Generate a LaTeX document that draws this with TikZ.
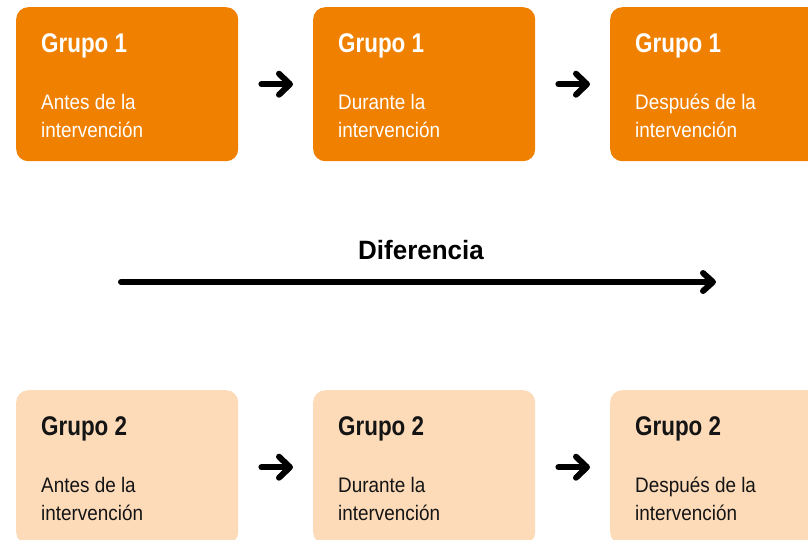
\documentclass[tikz,border=0pt]{standalone}
\usepackage{fontspec}
\setmainfont{Liberation Sans}
\newfontfamily\bodyfont[FakeStretch=0.9]{Liberation Sans}
\newfontfamily\titlefont[FakeStretch=0.83]{Liberation Sans}
\newfontfamily\diffont[FakeStretch=0.98]{Liberation Sans}
\usetikzlibrary{arrows.meta}
\definecolor{orangebox}{RGB}{240,128,0}
\definecolor{peachbox}{RGB}{253,219,185}
\definecolor{darktext}{RGB}{20,20,20}
\begin{document}
\begin{tikzpicture}[x=1pt,y=-1pt,
  box/.style={rounded corners=12pt, minimum width=222pt, minimum height=154pt, inner sep=0pt, anchor=north west},
  topbox/.style={box, fill=orangebox},
  botbox/.style={box, fill=peachbox},
  head/.style={anchor=base west, inner sep=0pt, font=\titlefont\bfseries\fontsize{27}{27}\selectfont},
  body/.style={anchor=base west, inner sep=0pt, align=left, font=\bodyfont\fontsize{21}{28}\selectfont},
  conn/.style={line width=6pt, line cap=round, -{Straight Barb[length=11pt,width=21pt,round]}, shorten <=23pt, shorten >=20pt},
  bigconn/.style={line width=6pt, line cap=round, -{Straight Barb[length=10pt,width=18pt,round]}}
]
\useasboundingbox (0,0) rectangle (808,539);
\clip (0,0) rectangle (808,539);

% top row
\node[topbox] (t1) at (16,7) {};
\node[topbox] (t2) at (313,7) {};
\node[topbox] (t3) at (610,7) {};
\node[head, text=white] (t1h) at ([shift={(25,45)}]t1.north west) {Grupo 1};
\node[head, text=white] (t2h) at ([shift={(25,45)}]t2.north west) {Grupo 1};
\node[head, text=white] (t3h) at ([shift={(25,45)}]t3.north west) {Grupo 1};
\node[body, text=white] (t1b) at ([shift={(25,130)}]t1.north west) {Antes de la\\intervención};
\node[body, text=white] (t2b) at ([shift={(25,130)}]t2.north west) {Durante la\\intervención};
\node[body, text=white] (t3b) at ([shift={(25,130)}]t3.north west) {Después de la\\intervención};
\draw[conn] (t1) -- (t2);
\draw[conn] (t2) -- (t3);

% middle
\node[anchor=base west, inner sep=0pt, font=\diffont\bfseries\fontsize{26.5}{26.5}\selectfont] (dif) at (358,259) {Diferencia};
\coordinate (dl) at (121,282);
\coordinate (dr) at (716,282);
\draw[bigconn] (dl) -- (dr);

% bottom row
\node[botbox] (b1) at (16,390) {};
\node[botbox] (b2) at (313,390) {};
\node[botbox] (b3) at (610,390) {};
\node[head, text=darktext] (b1h) at ([shift={(25,45)}]b1.north west) {Grupo 2};
\node[head, text=darktext] (b2h) at ([shift={(25,45)}]b2.north west) {Grupo 2};
\node[head, text=darktext] (b3h) at ([shift={(25,45)}]b3.north west) {Grupo 2};
\node[body, text=darktext] (b1b) at ([shift={(25,130)}]b1.north west) {Antes de la\\intervención};
\node[body, text=darktext] (b2b) at ([shift={(25,130)}]b2.north west) {Durante la\\intervención};
\node[body, text=darktext] (b3b) at ([shift={(25,130)}]b3.north west) {Después de la\\intervención};
\draw[conn] (b1) -- (b2);
\draw[conn] (b2) -- (b3);
\end{tikzpicture}
\end{document}
